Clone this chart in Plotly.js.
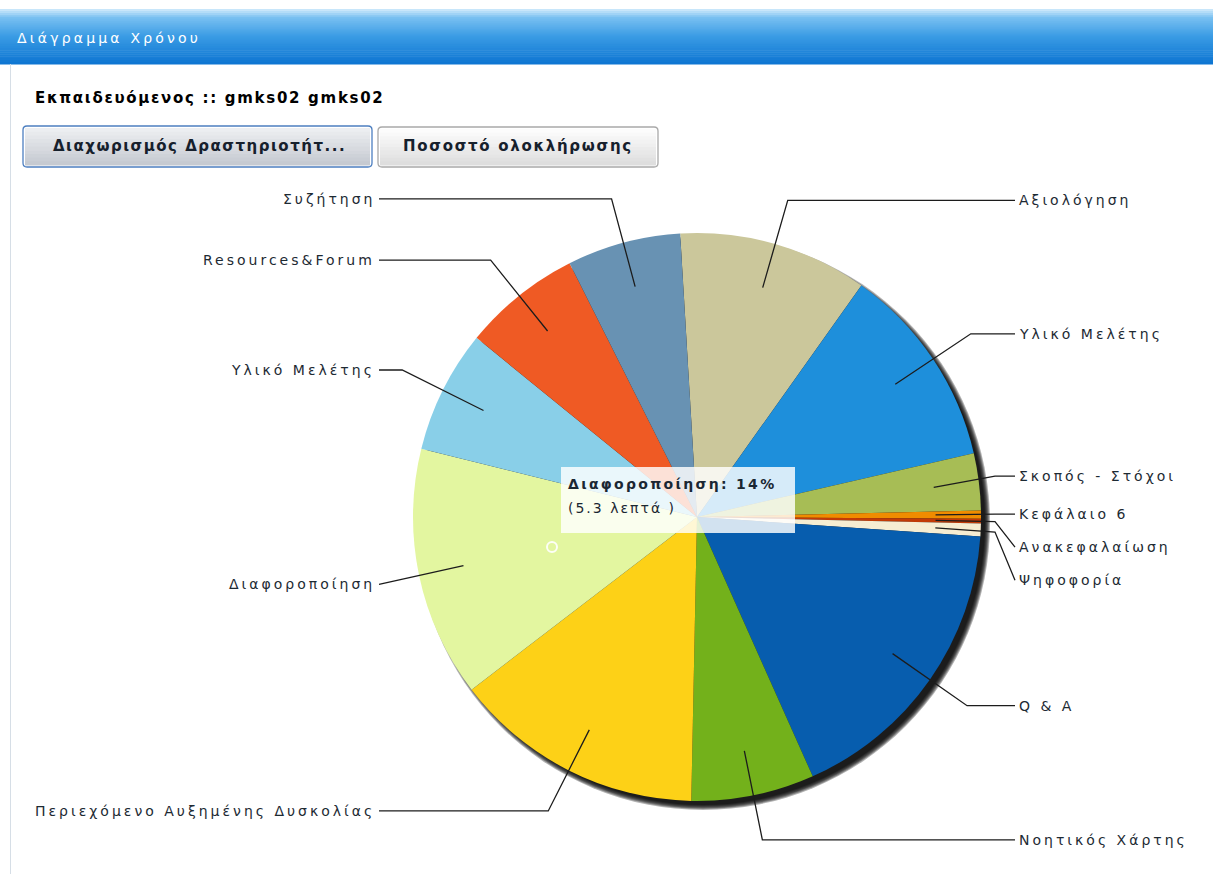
<!DOCTYPE html>
<html><head><meta charset="utf-8">
<script src="https://cdn.plot.ly/plotly-3.0.1.min.js"></script>
<style>html,body{margin:0;padding:0;background:#fff;overflow:hidden}</style>
</head><body>
<div id="chart" style="width:1213px;height:874px"></div>
<script>
// ---- data ----
const labels = ["Αξιολόγηση","Υλικό Μελέτης","Σκοπός - Στόχοι","Κεφάλαιο 6","Ανακεφαλαίωση","Ψηφοφορία","Q & A","Νοητικός Χάρτης","Περιεχόμενο Αυξημένης Δυσκολίας","Διαφοροποίηση","Υλικό Μελέτης","Resources&Forum","Συζήτηση"];
const minutes = [4.0, 4.3, 1.2, 0.17, 0.1, 0.27, 6.4, 2.6, 5.3, 5.3, 2.6, 2.5, 2.4];
const colors = ["#cbc79b","#1e8fdb","#a7bd55","#f08c00","#c23a06","#f6edd2","#075dae","#73b11b","#fdd117","#e3f6a0","#89cfe8","#ef5a24","#6892b3"];
const hoveredIndex = 9;
const unitText = "λεπτά";
const panelTitle = "Διάγραμμα Χρόνου";
const learnerText = "Εκπαιδευόμενος :: gmks02 gmks02";
const buttonTexts = ["Διαχωρισμός Δραστηριοτήτ...", "Ποσοστό ολοκλήρωσης"];

// ---- layout constants ----
const W = 1213, H = 874, CX = 697, CY = 517, R = 284, ROT = -3.4;
const total = minutes.reduce((a, b) => a + b, 0);
const FONT = "DejaVu Sans, Verdana, sans-serif";
const sp = (t, ls) => `<span style="letter-spacing:${ls}px">${t}</span>`;

function pt(theta, rr) {
  const t = theta * Math.PI / 180;
  return [CX + rr * Math.sin(t), CY - rr * Math.cos(t)];
}

const shapes = [];
const annotations = [];

// header band gradient
const stops = [[0, [200, 230, 250]], [0.15, [120, 192, 241]], [0.5, [58, 155, 228]], [1, [14, 118, 210]]];
function grad(f) {
  for (let k = 1; k < stops.length; k++) {
    if (f <= stops[k][0]) {
      const a = stops[k - 1], b = stops[k];
      const u = (f - a[0]) / (b[0] - a[0]);
      const c = a[1].map((v, j) => Math.round(v + (b[1][j] - v) * u));
      return `rgb(${c.join(',')})`;
    }
  }
  return 'rgb(14,118,210)';
}
const HY0 = 9, HY1 = 64, NS = 28;
for (let s = 0; s < NS; s++) {
  const y0 = HY0 + (HY1 - HY0) * s / NS, y1 = HY0 + (HY1 - HY0) * (s + 1) / NS + 0.6;
  shapes.push({type: 'rect', xref: 'x', yref: 'y', x0: 0, x1: W, y0: y0, y1: y1, line: {width: 0}, fillcolor: grad(s / (NS - 1)), layer: 'below'});
}
shapes.push({type: 'line', xref: 'x', yref: 'y', x0: 10.5, x1: 10.5, y0: HY1, y1: H, line: {color: '#d6dee6', width: 1}, layer: 'below'});

// buttons
function rrect(x0, y0, x1, y1, r) {
  return `M${x0 + r},${y0} L${x1 - r},${y0} Q${x1},${y0} ${x1},${y0 + r} L${x1},${y1 - r} Q${x1},${y1} ${x1 - r},${y1} L${x0 + r},${y1} Q${x0},${y1} ${x0},${y1 - r} L${x0},${y0 + r} Q${x0},${y0} ${x0 + r},${y0} Z`;
}
function button(x0, y0, x1, y1, top, bot, border) {
  const n = 10;
  for (let s = 0; s < n; s++) {
    const f = s / (n - 1);
    const c = top.map((v, j) => Math.round(v + (bot[j] - v) * f));
    shapes.push({type: 'rect', xref: 'x', yref: 'y', x0: x0 + 2, x1: x1 - 2, y0: y0 + 2 + (y1 - y0 - 4) * s / n, y1: y0 + 2 + (y1 - y0 - 4) * (s + 1) / n + 0.6, line: {width: 0}, fillcolor: `rgb(${c.join(',')})`, layer: 'below'});
  }
  shapes.push({type: 'path', xref: 'x', yref: 'y', path: rrect(x0, y0, x1, y1, 4), line: {color: border, width: 1.3}, fillcolor: 'rgba(0,0,0,0)', layer: 'below'});
}
button(23, 126, 372, 167, [236, 238, 241], [198, 202, 209], '#4d7fc0');
button(378, 127, 658, 167, [252, 252, 252], [222, 222, 222], '#a9a9a9');

// shadow
for (let k = 0; k < 6; k++) {
  shapes.push({type: 'circle', xref: 'x', yref: 'y', x0: CX + 6 - (R + 3 - k), x1: CX + 6 + (R + 3 - k), y0: CY + 6 - (R + 3 - k), y1: CY + 6 + (R + 3 - k), line: {width: 0}, fillcolor: 'rgba(0,0,0,0.3)', layer: 'below'});
}

// texts
annotations.push({xref: 'x', yref: 'y', x: 15, y: 38, xanchor: 'left', yanchor: 'middle', showarrow: false, text: sp(panelTitle, 3.2), font: {family: FONT, size: 14, color: '#ffffff'}});
annotations.push({xref: 'x', yref: 'y', x: 33, y: 98, xanchor: 'left', yanchor: 'middle', showarrow: false, text: '<b>' + sp(learnerText, 1.7) + '</b>', font: {family: FONT, size: 15, color: '#000000'}});
annotations.push({xref: 'x', yref: 'y', x: 199, y: 146, xanchor: 'center', yanchor: 'middle', showarrow: false, text: '<b>' + sp(buttonTexts[0], 1.5) + '</b>', font: {family: FONT, size: 15, color: '#16202c'}});
annotations.push({xref: 'x', yref: 'y', x: 518, y: 146, xanchor: 'center', yanchor: 'middle', showarrow: false, text: '<b>' + sp(buttonTexts[1], 1.7) + '</b>', font: {family: FONT, size: 15, color: '#16202c'}});

// label layout
let cum = 0;
const items = minutes.map((v, i) => {
  const a0 = ROT + 360 * cum / total; cum += v;
  const a1 = ROT + 360 * cum / total;
  const mid = ((a0 + a1) / 2 + 360) % 360;
  return {i, mid, inner: pt(mid, 0.84 * R), elbow: pt(mid, 1.16 * R), right: mid < 180, y: pt(mid, 1.16 * R)[1]};
});
const GAP = 33;
['right', 'left'].forEach(side => {
  const arr = items.filter(o => (side === 'right') === o.right).sort((a, b) => a.y - b.y);
  for (let k = 1; k < arr.length; k++) if (arr[k].y < arr[k - 1].y + GAP) arr[k].y = arr[k - 1].y + GAP;
});
items.forEach(o => {
  let endX, ex;
  if (o.right) { endX = 1015; ex = Math.min(o.elbow[0], 995); }
  else { endX = 379; ex = Math.max(o.elbow[0], endX); }
  const path = `M${o.inner[0]},${o.inner[1]} L${ex},${o.elbow[1]} L${endX},${o.y}`;
  shapes.push({type: 'path', xref: 'x', yref: 'y', path, line: {color: '#1c1c1c', width: 1.3}, layer: 'above'});
  annotations.push({xref: 'x', yref: 'y', x: o.right ? endX + 2 : endX - 2, y: o.y, xanchor: o.right ? 'left' : 'right', yanchor: 'middle', showarrow: false,
    text: sp(labels[o.i], 3.0), font: {family: FONT, size: 14, color: '#1d2a33'}});
});

// tooltip of hovered slice
const pct = Math.round(minutes[hoveredIndex] / total * 100);
shapes.push({type: 'rect', xref: 'x', yref: 'y', x0: 561, x1: 795, y0: 467, y1: 533, line: {width: 0}, fillcolor: 'rgba(255,255,255,0.82)', layer: 'above'});
annotations.push({xref: 'x', yref: 'y', x: 566, y: 484, xanchor: 'left', yanchor: 'middle', showarrow: false,
  text: '<b>' + sp(labels[hoveredIndex] + ': ' + pct + '%', 2.3) + '</b>', font: {family: FONT, size: 14, color: '#1a2733'}});
annotations.push({xref: 'x', yref: 'y', x: 566, y: 508, xanchor: 'left', yanchor: 'middle', showarrow: false,
  text: sp('(' + minutes[hoveredIndex].toFixed(1) + ' ' + unitText + ' )', 2.0), font: {family: FONT, size: 14, color: '#1a2733'}});
shapes.push({type: 'circle', xref: 'x', yref: 'y', x0: 547, x1: 557, y0: 542, y1: 552, line: {color: 'rgba(255,255,255,0.9)', width: 2}, fillcolor: 'rgba(0,0,0,0)', layer: 'above'});

const trace = {
  type: 'pie',
  labels: labels.map((l, i) => 's' + i),
  values: minutes,
  text: labels,
  sort: false,
  direction: 'clockwise',
  rotation: ROT,
  textinfo: 'none',
  hoverinfo: 'skip',
  marker: {colors: colors, line: {width: 0}},
  domain: {x: [(CX - R) / W, (CX + R) / W], y: [(H - CY - R) / H, (H - CY + R) / H]},
  showlegend: false
};

const layout = {
  width: W, height: H,
  margin: {l: 0, r: 0, t: 0, b: 0},
  paper_bgcolor: '#ffffff', plot_bgcolor: 'rgba(0,0,0,0)',
  xaxis: {range: [0, W], visible: false, fixedrange: true},
  yaxis: {range: [H, 0], visible: false, fixedrange: true},
  showlegend: false,
  shapes, annotations
};
Plotly.newPlot('chart', [trace], layout, {staticPlot: true, displayModeBar: false});
</script>
</body></html>
